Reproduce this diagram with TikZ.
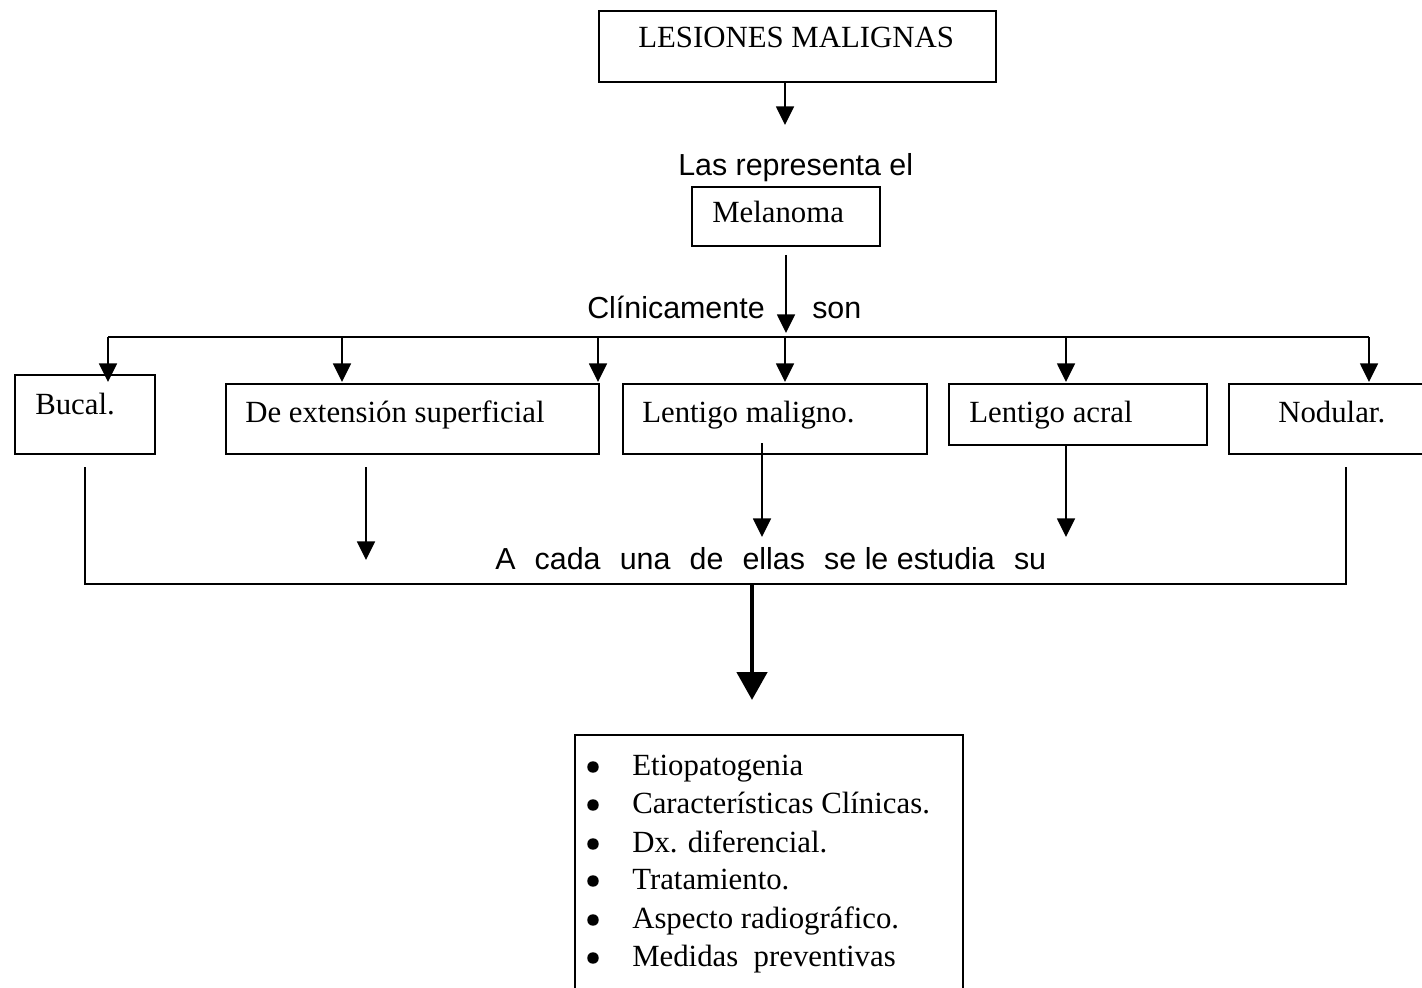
\documentclass[tikz,border=0pt]{standalone}
\usepackage{fontspec}
\setmainfont{Liberation Serif}
\setsansfont{Liberation Sans}
\usetikzlibrary{arrows.meta}
\newcommand{\wgap}{\hspace{0.63em}}
\begin{document}
\begin{tikzpicture}[x=0.75pt,y=-0.75pt,
  box/.style={draw,line width=1.2pt,rectangle,inner sep=0pt,anchor=north west},
  ln/.style={line width=1.2pt},
  arr/.style={line width=1.2pt,-{Triangle[width=13.5pt,length=14pt]}},
  bigarr/.style={line width=3.6pt,-{Triangle[width=22.5pt,length=21pt]}},
  rm/.style={inner sep=0pt,anchor=base west,font=\fontsize{23.1}{27}\selectfont},
  sf/.style={inner sep=0pt,anchor=base west,font=\sffamily\fontsize{22.8}{27}\selectfont},
  dot/.style={circle,fill,inner sep=0pt,minimum size=8.6pt}]
\useasboundingbox (0,0) rectangle (1422,988);
\clip (0,0) rectangle (1422,988);

% boxes
\node[box,minimum width=397*0.75pt,minimum height=71*0.75pt] (top) at (598,10) {};
\node[box,minimum width=188*0.75pt,minimum height=59*0.75pt] (mel) at (691,186) {};
\node[box,minimum width=140*0.75pt,minimum height=79*0.75pt] (bucal) at (14,374) {};
\node[box,minimum width=373*0.75pt,minimum height=70*0.75pt] (ext) at (225,383) {};
\node[box,minimum width=304*0.75pt,minimum height=70*0.75pt] (lmal) at (622,383) {};
\node[box,minimum width=258*0.75pt,minimum height=61*0.75pt] (lacr) at (948,383) {};
\node[box,minimum width=260*0.75pt,minimum height=70*0.75pt] (nod) at (1228,383) {};
\node[box,minimum width=388*0.75pt,minimum height=300*0.75pt] (list) at (574,734) {};

% texts
\node[rm] (ttop) at (638,48) {LESIONES MALIGNAS};
\node[sf] (trep) at (678,176) {Las representa el};
\node[rm] (tmel) at (712,223) {Melanoma};
\node[sf] (tclin) at (587,318) {Clínicamente};
\node[sf] (tson) at (812,318) {son};
\node[rm] (tbuc) at (35,414) {Bucal.};
\node[rm] (text) at (245,422) {De extensión superficial};
\node[rm] (tlmal) at (642,422) {Lentigo maligno.};
\node[rm] (tlacr) at (969,422) {Lentigo acral};
\node[rm] (tnod) at (1278,422) {Nodular.};
\node[sf] (tcada) at (495,569) {A\wgap cada\wgap una\wgap de\wgap ellas\wgap se le estudia\wgap su};

% list of topics with round bullets
\foreach \name/\y/\txt in {i1/775/Etiopatogenia,
                            i2/813/Características Clínicas.,
                            i3/852/Dx. diferencial.,
                            i4/889/Tratamiento.,
                            i5/928/Aspecto radiográfico.,
                            i6/966/Medidas\ \ preventivas}{
  \node[dot] (b\name) at (593,\y-8) {};
  \node[rm] (\name) at (632,\y) {\txt};
}

% connectors from the title to the bus
\coordinate (a1end) at (785,125);
\draw[arr] (top.south -| a1end) -- (a1end);
\coordinate (a2start) at (786,255);
\coordinate (a2end) at (786,333);
\draw[arr] (a2start) -- (a2end);

% distribution bus
\coordinate (busL) at (108,337);
\coordinate (busR) at (1369,337);
\draw[ln] (busL) -- (busR);
\foreach \x [count=\k] in {108,342,598,785,1066,1369}{
  \coordinate (bs\k) at (\x,337);
  \coordinate (bt\k) at (\x,382);
  \draw[arr] (bs\k) -- (bt\k);
}

% collecting lines below the boxes
\coordinate (cL) at (85,467);
\coordinate (cR) at (1346,467);
\draw[ln] (cL) -- (85,584) -- (1346,584) -- (cR);
\coordinate (e1) at (366,467);
\coordinate (e1t) at (366,560);
\draw[arr] (e1) -- (e1t);
\coordinate (e2) at (762,443);
\coordinate (e2t) at (762,537);
\draw[arr] (e2) -- (e2t);
\coordinate (e3t) at (1066,537);
\draw[arr] (lacr.south -| e3t) -- (e3t);

% thick arrow to the list
\coordinate (big) at (752,584);
\coordinate (bigt) at (752,700);
\draw[bigarr] (big) -- (bigt);
\end{tikzpicture}
\end{document}
